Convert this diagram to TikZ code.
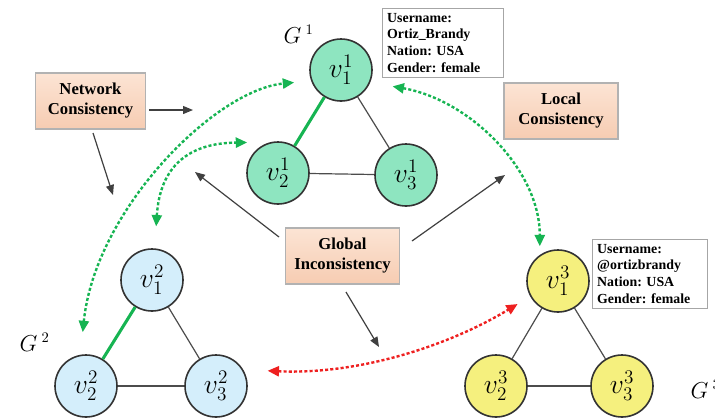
\documentclass[tikz,border=0pt]{standalone}
\usepackage{fontspec}
\setmainfont{Liberation Serif}
\usetikzlibrary{arrows.meta}

\definecolor{mintfill}{RGB}{142,229,192}
\definecolor{skyfill}{RGB}{212,238,251}
\definecolor{lemonfill}{RGB}{245,240,126}
\definecolor{linkgreen}{RGB}{22,180,82}
\definecolor{linkred}{RGB}{238,32,32}
\definecolor{peachtop}{RGB}{252,228,212}
\definecolor{peachbot}{RGB}{246,204,178}

\tikzset{
  vnode/.style={circle, draw=black!80, line width=1.2pt, minimum size=46.5pt,
    inner sep=0pt, font=\fontsize{20}{24}\selectfont},
  gone/.style={vnode, fill=mintfill},
  gtwo/.style={vnode, fill=skyfill},
  gthree/.style={vnode, fill=lemonfill},
  plain edge/.style={draw=black!70, line width=0.9pt},
  anchor edge/.style={draw=linkgreen, line width=2.3pt},
  concept/.style={rectangle, draw=black!30, line width=0.8pt,
    top color=peachtop, bottom color=peachbot, align=center,
    font=\fontsize{12.5}{15}\selectfont\bfseries, minimum height=42pt},
  profile/.style={rectangle, draw=black!35, line width=0.8pt, fill=white,
    align=left, anchor=north west, inner sep=3.5pt,
    font=\fontsize{10.4}{12.5}\selectfont\bfseries\frenchspacing},
  graphname/.style={font=\fontsize{16}{18}\selectfont},
  flow/.style={draw=black!75, line width=0.9pt,
    -{Triangle[length=7.5pt,width=6pt]}},
  linkarrow/.style={line width=1.8pt, dash pattern=on 2.3pt off 1.6pt,
    {Triangle[length=8.5pt,width=7.5pt]}-{Triangle[length=8.5pt,width=7.5pt]}},
  match/.style={linkarrow, draw=linkgreen},
  mismatch/.style={linkarrow, draw=linkred}
}

\begin{document}
\begin{tikzpicture}[x=0.75pt, y=-0.75pt]
\useasboundingbox (0,0) rectangle (715,419);
\clip (0,0) rectangle (715,419);

% graph G^1
\node[gone] (v11) at (341,70)  {$v_1^1$};
\node[gone] (v21) at (278,173) {$v_2^1$};
\node[gone] (v31) at (406,175) {$v_3^1$};
% graph G^2
\node[gtwo] (v12) at (152,280) {$v_1^2$};
\node[gtwo] (v22) at (86,386)  {$v_2^2$};
\node[gtwo] (v32) at (216,386) {$v_3^2$};
% graph G^3
\node[gthree] (v13) at (558,281) {$v_1^3$};
\node[gthree] (v23) at (496,386) {$v_2^3$};
\node[gthree] (v33) at (622,386) {$v_3^3$};

% graph names
\node[graphname, anchor=base west] (gname1) at (279,43)  {$G^{\;1}$};
\node[graphname, anchor=base west] (gname2) at (15,351)  {$G^{\;2}$};
\node[graphname, anchor=base west] (gname3) at (686,398) {$G^{\;3}$};

% edges
\draw[anchor edge] (v11) -- (v21);
\draw[plain edge] (v11) -- (v31);
\draw[plain edge] (v21) -- (v31);
\draw[anchor edge] (v12) -- (v22);
\draw[plain edge] (v12) -- (v32);
\draw[plain edge] (v22) -- (v32);
\draw[plain edge] (v13) -- (v23);
\draw[plain edge] (v13) -- (v33);
\draw[plain edge] (v23) -- (v33);

% concept boxes
\node[concept, minimum width=82pt]   (net)  at (90.5,101) {Network\\Consistency};
\node[concept, minimum width=85.5pt] (loc)  at (561,111)  {Local\\Consistency};
\node[concept, minimum width=86pt]   (glob) at (342.5,256) {Global\\Inconsistency};

% user profiles
\node[profile, text width=83.5pt] (prof1) at (382,8)
  {Username:\\Ortiz\_Brandy\\Nation: USA\\Gender: female};
\node[profile, text width=79pt] (prof3) at (592,239)
  {Username:\\@ortizbrandy\\Nation: USA\\Gender: female};

% flow arrows
\coordinate (netRa) at (149,110);  \coordinate (netRb) at (193,110);
\coordinate (netDa) at (93,133);   \coordinate (netDb) at (113,195);
\coordinate (gulA) at (279,237);   \coordinate (gulB) at (195,172);
\coordinate (gurA) at (412,241);   \coordinate (gurB) at (505,175);
\coordinate (gdA) at (346,292);    \coordinate (gdB) at (379,347);
\draw[flow] (netRa) -- (netRb);
\draw[flow] (netDa) -- (netDb);
\draw[flow] (gulA) -- (gulB);
\draw[flow] (gurA) -- (gurB);
\draw[flow] (gdA) -- (gdB);

% cross-network links
\draw[match, shorten <=17pt, shorten >=12.8pt]
  (v22.100) .. controls (95,210) and (215,90) .. (v11.200);
\draw[match, shorten <=16.5pt, shorten >=17pt]
  (v12.85) .. controls (160,165) and (190,143) .. (v21.105);
\draw[match, shorten <=17pt, shorten >=6.5pt]
  (v11.337) .. controls (470,100) and (540,170) .. (v13.125);
\draw[mismatch, shorten <=18.3pt, shorten >=11pt]
  (v32.31) .. controls (360,375) and (450,345) .. (v13.209);
\end{tikzpicture}
\end{document}
